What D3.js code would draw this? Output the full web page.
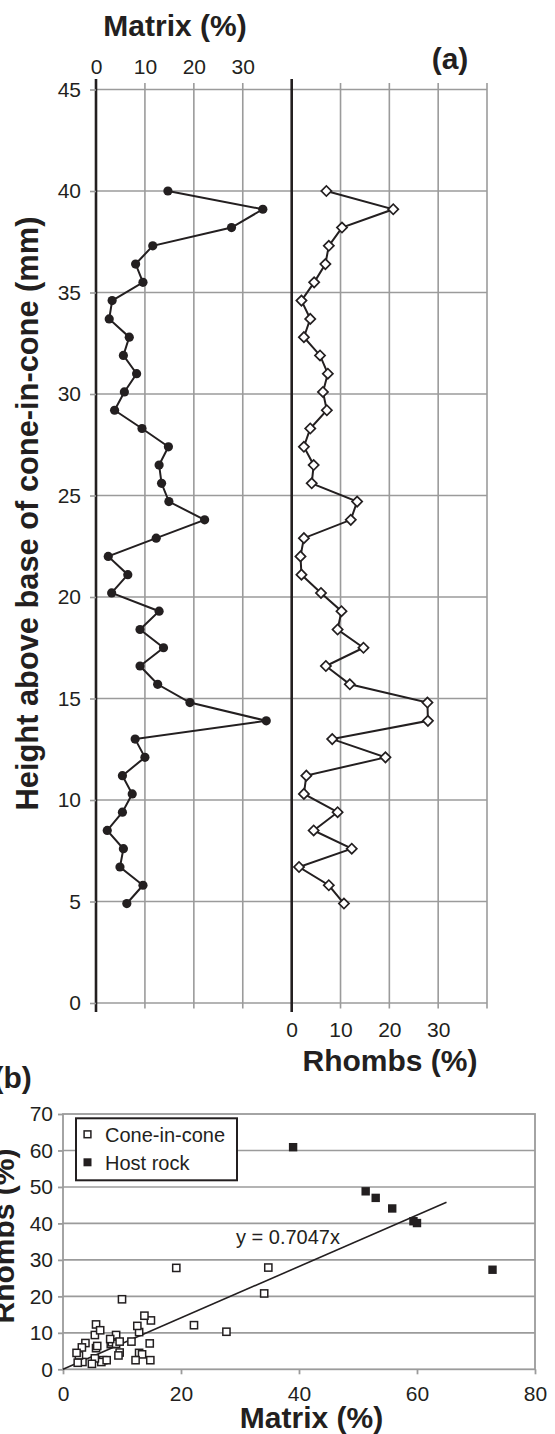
<!DOCTYPE html>
<html>
<head>
<meta charset="utf-8">
<script src="https://cdn.jsdelivr.net/npm/d3@7.9.0/dist/d3.min.js"></script>
<style>
  html, body { margin: 0; padding: 0; background: #fff; }
  svg { display: block; font-family: "Liberation Sans", Arial, sans-serif; }
  text { fill: #231f20; }
  .bold { font-weight: bold; }
</style>
</head>
<body>
<svg id="chart" width="555" height="1434"></svg>
<script>
// panel (a): height above base, matrix % and rhombs % at each level
const heights = [40, 39.1, 38.2, 37.3, 36.4, 35.5, 34.6, 33.7, 32.8, 31.9, 31.0, 30.1, 29.2, 28.3,
  27.4, 26.5, 25.6, 24.7, 23.8, 22.9, 22.0, 21.1, 20.2, 19.3, 18.4, 17.5, 16.6, 15.7, 14.8, 13.9,
  13.0, 12.1, 11.2, 10.3, 9.4, 8.5, 7.6, 6.7, 5.8, 4.9];
const matrix = [14.7, 34.1, 27.7, 11.6, 8.1, 9.6, 3.3, 2.7, 6.8, 5.6, 8.3, 5.8, 3.8, 9.4,
  14.8, 12.9, 13.4, 14.9, 22.2, 12.3, 2.5, 6.5, 3.2, 12.9, 9.0, 13.8, 9.0, 12.6, 19.2, 34.8,
  8.0, 10.0, 5.4, 7.4, 5.4, 2.3, 5.6, 4.9, 9.6, 6.3];
const rhombs = [7.1, 20.8, 10.3, 7.6, 6.9, 4.6, 2.0, 3.8, 2.5, 5.8, 7.4, 6.4, 7.2, 3.8,
  2.5, 4.5, 4.1, 13.4, 12.1, 2.5, 1.8, 2.0, 6.0, 10.2, 9.4, 14.7, 7.0, 11.9, 27.8, 27.9,
  8.3, 19.2, 3.0, 2.5, 9.4, 4.5, 12.3, 1.5, 7.6, 10.7];
const heightTicks = [0, 5, 10, 15, 20, 25, 30, 35, 40, 45];
const matrixTicks = [0, 10, 20, 30];
const rhombTicks = [0, 10, 20, 30];

// panel (b): host rock samples + regression
const hostMatrix = [39.0, 51.3, 53.0, 55.8, 59.4, 60.0, 72.8];
const hostRhombs = [60.9, 48.8, 47.0, 44.1, 40.6, 40.1, 27.3];
const slope = 0.7047;
const fitMax = 65;
const scatterXTicks = [0, 20, 40, 60, 80];
const scatterYTicks = [0, 10, 20, 30, 40, 50, 60, 70];

const svg = d3.select('#chart');
const gridCol = '#9b9b9b';
const ink = '#231f20';

// ---------- panel (a) ----------
const y = d3.scaleLinear().domain([0, 45]).range([1003, 89.5]);
const xm = d3.scaleLinear().domain([0, 40]).range([96, 291.7]);
const xr = d3.scaleLinear().domain([0, 40]).range([291.7, 487]);

const a = svg.append('g');

// horizontal grid
a.selectAll('line.hg').data(heightTicks).join('line')
  .attr('x1', xm(0)).attr('x2', xr(40))
  .attr('y1', d => y(d)).attr('y2', d => y(d))
  .attr('stroke', gridCol).attr('stroke-width', 1.6);

// vertical grid (with little ticks above/below)
const vGrid = [10, 20, 30].map(v => xm(v)).concat([10, 20, 30, 40].map(v => xr(v)));
a.selectAll('line.vg').data(vGrid).join('line')
  .attr('x1', d => d).attr('x2', d => d)
  .attr('y1', y(45) - 6.5).attr('y2', y(0) + 5.5)
  .attr('stroke', gridCol).attr('stroke-width', 1.6);

// the two zero lines
a.selectAll('line.zero').data([xm(0), xr(0)]).join('line')
  .attr('x1', d => d).attr('x2', d => d)
  .attr('y1', y(45) - 10.5).attr('y2', y(0) + 9)
  .attr('stroke', ink).attr('stroke-width', 2.6);

// axes
const yAxis = a.append('g').attr('transform', `translate(${xm(0)},0)`)
  .call(d3.axisLeft(y).tickValues(heightTicks).tickSize(6).tickPadding(9));
const topAxis = a.append('g').attr('transform', `translate(0,${y(45)})`)
  .call(d3.axisTop(xm).tickValues(matrixTicks).tickSize(0).tickPadding(16));
const botAxis = a.append('g').attr('transform', `translate(0,${y(0)})`)
  .call(d3.axisBottom(xr).tickValues(rhombTicks).tickSize(0).tickPadding(19.2));
[yAxis, topAxis, botAxis].forEach(g => {
  g.select('.domain').remove();
  g.selectAll('.tick line').attr('stroke', gridCol).attr('stroke-width', 1.6);
  g.selectAll('text').attr('font-size', 21).attr('fill', ink)
    .attr('font-family', '"Liberation Sans", Arial, sans-serif');
});

// matrix profile
const matrixPts = heights.map((h, i) => [xm(matrix[i]), y(h)]);
a.append('path').attr('d', d3.line()(matrixPts))
  .attr('fill', 'none').attr('stroke', ink).attr('stroke-width', 2);
a.selectAll('circle.m').data(matrixPts).join('circle')
  .attr('cx', d => d[0]).attr('cy', d => d[1]).attr('r', 4.6)
  .attr('fill', ink);

// rhombs profile
const rhombPts = heights.map((h, i) => [xr(rhombs[i]), y(h)]);
a.append('path').attr('d', d3.line()(rhombPts))
  .attr('fill', 'none').attr('stroke', ink).attr('stroke-width', 2);
const diamond = d3.symbol().type(d3.symbolSquare).size(52);
a.selectAll('path.r').data(rhombPts).join('path')
  .attr('d', diamond)
  .attr('transform', d => `translate(${d[0]},${d[1]}) rotate(45)`)
  .attr('fill', '#fff').attr('stroke', ink).attr('stroke-width', 1.7);

// titles
a.append('text').attr('class', 'bold').attr('x', 175).attr('y', 36)
  .attr('text-anchor', 'middle').attr('font-size', 30).text('Matrix (%)');
a.append('text').attr('class', 'bold').attr('x', 450).attr('y', 69)
  .attr('text-anchor', 'middle').attr('font-size', 30).text('(a)');
a.append('text').attr('class', 'bold').attr('x', 390).attr('y', 1071)
  .attr('text-anchor', 'middle').attr('font-size', 30).text('Rhombs (%)');
a.append('text').attr('class', 'bold')
  .attr('transform', 'translate(38,513.5) rotate(-90)')
  .attr('text-anchor', 'middle').attr('font-size', 30.8)
  .text('Height above base of cone-in-cone (mm)');

// ---------- panel (b) ----------
const xs = d3.scaleLinear().domain([0, 80]).range([63, 535]);
const ys = d3.scaleLinear().domain([0, 70]).range([1369.3, 1114]);
const b = svg.append('g');

b.selectAll('line.hg').data(scatterYTicks.slice(1, -1)).join('line')
  .attr('x1', xs(0)).attr('x2', xs(80))
  .attr('y1', d => ys(d)).attr('y2', d => ys(d))
  .attr('stroke', gridCol).attr('stroke-width', 1.6);
b.append('rect')
  .attr('x', xs(0)).attr('y', ys(70))
  .attr('width', xs(80) - xs(0)).attr('height', ys(0) - ys(70))
  .attr('fill', 'none').attr('stroke', gridCol).attr('stroke-width', 1.8);

const bx = b.append('g').attr('transform', `translate(0,${ys(0)})`)
  .call(d3.axisBottom(xs).tickValues(scatterXTicks).tickSize(5).tickPadding(11.5));
const by = b.append('g').attr('transform', `translate(${xs(0)},0)`)
  .call(d3.axisLeft(ys).tickValues(scatterYTicks).tickSize(5).tickPadding(5));
[bx, by].forEach(g => {
  g.select('.domain').remove();
  g.selectAll('.tick line').attr('stroke', gridCol).attr('stroke-width', 1.8);
  g.selectAll('text').attr('font-size', 21).attr('fill', ink)
    .attr('font-family', '"Liberation Sans", Arial, sans-serif');
});

// regression line through origin
b.append('line')
  .attr('x1', xs(0)).attr('y1', ys(0))
  .attr('x2', xs(fitMax)).attr('y2', ys(slope * fitMax))
  .attr('stroke', ink).attr('stroke-width', 1.6);
b.append('text').attr('x', 236).attr('y', 1244).attr('font-size', 20)
  .text(`y = ${slope}x`);

// cone-in-cone samples (same measurements as panel a)
b.selectAll('rect.cone').data(matrix.map((m, i) => [m, rhombs[i]])).join('rect')
  .attr('x', d => xs(d[0]) - 3.6).attr('y', d => ys(d[1]) - 3.6)
  .attr('width', 7.2).attr('height', 7.2)
  .attr('fill', '#fff').attr('stroke', ink).attr('stroke-width', 1.5);
// host rock samples
b.selectAll('rect.host').data(hostMatrix.map((m, i) => [m, hostRhombs[i]])).join('rect')
  .attr('x', d => xs(d[0]) - 4.2).attr('y', d => ys(d[1]) - 4.2)
  .attr('width', 8.4).attr('height', 8.4)
  .attr('fill', ink);

// legend
const lg = b.append('g');
lg.append('rect').attr('x', 76).attr('y', 1118.3).attr('width', 161).attr('height', 62)
  .attr('fill', '#fff').attr('stroke', ink).attr('stroke-width', 2);
lg.append('rect').attr('x', 87.5 - 3.4).attr('y', 1134.3 - 3.4).attr('width', 6.8).attr('height', 6.8)
  .attr('fill', '#fff').attr('stroke', ink).attr('stroke-width', 1.5);
lg.append('rect').attr('x', 87.5 - 4).attr('y', 1162.3 - 4).attr('width', 8).attr('height', 8)
  .attr('fill', ink);
lg.append('text').attr('x', 105).attr('y', 1141.5).attr('font-size', 20).text('Cone-in-cone');
lg.append('text').attr('x', 105).attr('y', 1169.5).attr('font-size', 20).text('Host rock');

// titles
b.append('text').attr('class', 'bold').attr('x', -6.6).attr('y', 1088)
  .attr('font-size', 30).text('(b)');
b.append('text').attr('class', 'bold').attr('x', 311.5).attr('y', 1428)
  .attr('text-anchor', 'middle').attr('font-size', 30).text('Matrix (%)');
b.append('text').attr('class', 'bold')
  .attr('transform', 'translate(13.5,1236) rotate(-90)')
  .attr('text-anchor', 'middle').attr('font-size', 30).text('Rhombs (%)');
</script>
</body>
</html>
